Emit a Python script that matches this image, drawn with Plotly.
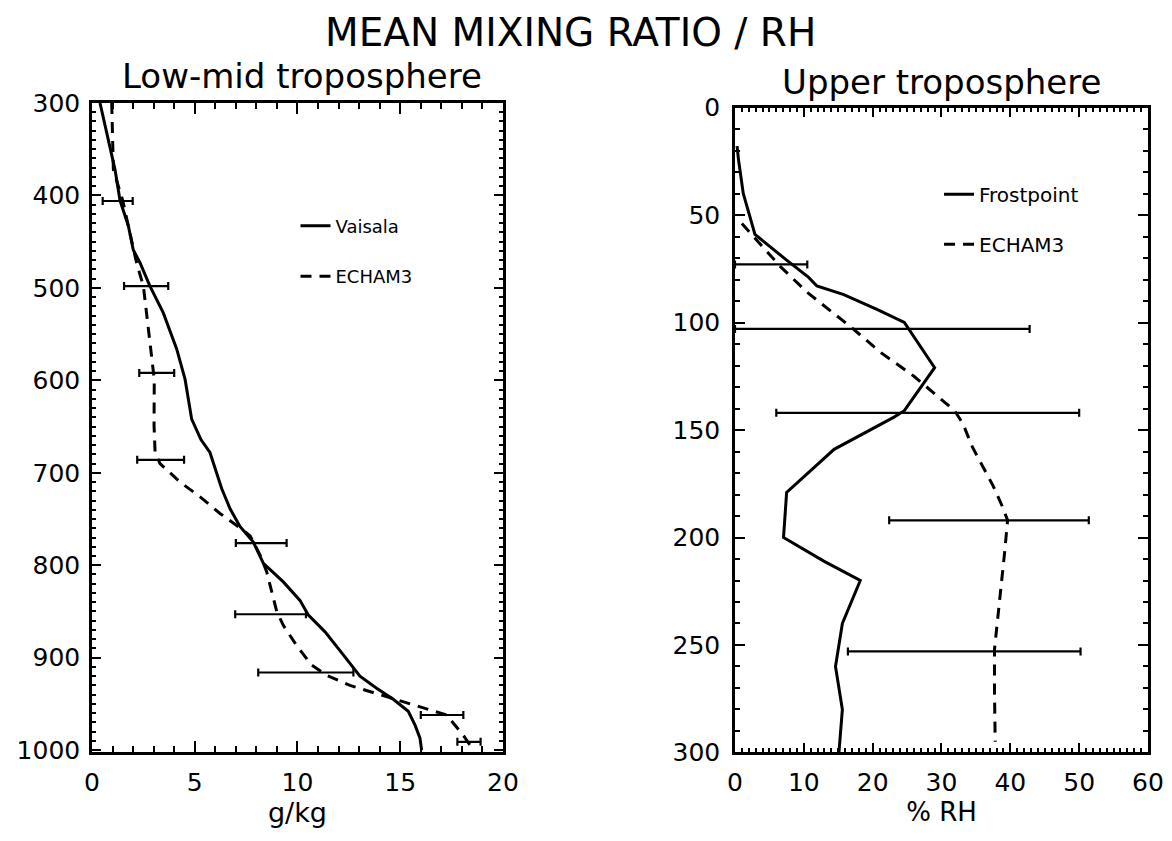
import plotly.graph_objects as go

# ---------------- data: left panel (mixing ratio, g/kg vs pressure hPa) ----------------
vais_p = [300, 333, 372, 405, 433, 459, 473, 498, 527, 566, 599, 642, 664, 678, 717, 739,
          758, 775, 798, 818, 838, 854, 872, 897, 920, 933, 945, 958, 973, 987, 1000]
vais_q = [0.39, 0.71, 1.12, 1.36, 1.77, 2.01, 2.34, 2.82, 3.47, 4.12, 4.53, 4.85, 5.3, 5.74,
          6.31, 6.72, 7.2, 7.85, 8.34, 9.31, 10.12, 10.53, 11.34, 12.23, 13.04, 13.85, 14.66,
          15.39, 15.72, 15.96, 16.04]

echl_p = [300, 372, 406, 473, 498, 541, 570, 599, 649, 678, 690, 710, 726, 744, 757, 768,
          789, 807, 850, 865, 887, 908, 919, 930, 941, 953, 962, 984, 1000]
echl_q = [0.96, 1.04, 1.5, 2.17, 2.5, 2.74, 2.9, 3.03, 3.02, 3.07, 3.31, 4.28, 5.26, 6.23,
          7.04, 7.69, 8.18, 8.5, 8.99, 9.31, 9.96, 10.69, 11.42, 12.55, 14.17, 15.96, 17.26,
          18.07, 18.56]

errl_p = [406, 498, 592, 686, 776, 853, 916, 962, 991]
errl_lo = [0.52, 1.56, 2.3, 2.2, 7.0, 6.97, 8.09, 16.0, 17.78]
errl_hi = [1.98, 3.71, 4.0, 4.48, 9.47, 10.41, 12.72, 18.07, 18.91]

# ---------------- data: right panel (% RH vs pressure hPa) ----------------
frost_p = [18, 24, 40, 59, 71, 79, 83, 87, 94, 100, 121, 141, 144, 159, 179, 200, 211,
           220, 240, 260, 280, 300]
frost_rh = [0.3, 0.5, 1.2, 2.9, 7.5, 10.7, 11.9, 15.8, 20.7, 24.6, 29.0, 24.6, 23.1, 14.4,
            7.5, 7.05, 12.9, 18.2, 15.6, 14.6, 15.6, 15.1]

echr_p = [54, 62, 74, 86, 102, 114, 125, 141, 147, 158, 176, 186, 192, 206, 229, 252, 272, 295]
echr_rh = [1.0, 3.2, 6.6, 10.5, 16.8, 21.2, 26.0, 31.9, 33.1, 34.5, 37.5, 38.9, 39.6, 39.2,
           38.4, 37.7, 37.7, 37.8]

errr_p = [73, 103, 142, 192, 253]
errr_lo = [0.0, 0.0, 6.0, 22.4, 16.4]
errr_hi = [10.5, 42.8, 50.0, 51.4, 50.2]

# tick settings
left_xticks = [0, 5, 10, 15, 20]
left_yticks = [300, 400, 500, 600, 700, 800, 900, 1000]
right_xticks = [0, 10, 20, 30, 40, 50, 60]
right_yticks = [0, 50, 100, 150, 200, 250, 300]

FONT = "DejaVu Sans, Liberation Sans, sans-serif"
DASH = "11px,8px"
LW = 3

fig = go.Figure()

fig.add_trace(go.Scatter(x=vais_q, y=vais_p, mode="lines", name="Vaisala",
                         line=dict(color="black", width=LW), xaxis="x", yaxis="y",
                         legend="legend", legendgroup="a"))
fig.add_trace(go.Scatter(x=echl_q, y=echl_p, mode="lines", name="ECHAM3",
                         line=dict(color="black", width=LW, dash=DASH), xaxis="x", yaxis="y",
                         legend="legend", legendgroup="b"))
cl = [(a + b) / 2 for a, b in zip(errl_lo, errl_hi)]
fig.add_trace(go.Scatter(x=cl, y=errl_p, mode="markers", showlegend=False,
                         marker=dict(size=1, color="rgba(0,0,0,0)"), xaxis="x", yaxis="y",
                         error_x=dict(type="data", symmetric=False,
                                      array=[h - c for h, c in zip(errl_hi, cl)],
                                      arrayminus=[c - l for c, l in zip(cl, errl_lo)],
                                      color="black", thickness=2.2, width=4)))

fig.add_trace(go.Scatter(x=frost_rh, y=frost_p, mode="lines", name="Frostpoint",
                         line=dict(color="black", width=LW), xaxis="x2", yaxis="y2",
                         legend="legend2", legendgroup="c"))
fig.add_trace(go.Scatter(x=echr_rh, y=echr_p, mode="lines", name="ECHAM3",
                         line=dict(color="black", width=LW, dash=DASH), xaxis="x2", yaxis="y2",
                         legend="legend2", legendgroup="d"))
cr = [(a + b) / 2 for a, b in zip(errr_lo, errr_hi)]
fig.add_trace(go.Scatter(x=cr, y=errr_p, mode="markers", showlegend=False,
                         marker=dict(size=1, color="rgba(0,0,0,0)"), xaxis="x2", yaxis="y2",
                         error_x=dict(type="data", symmetric=False,
                                      array=[h - c for h, c in zip(errr_hi, cr)],
                                      arrayminus=[c - l for c, l in zip(cr, errr_lo)],
                                      color="black", thickness=2.2, width=4)))

axis_common = dict(showline=True, linecolor="black", linewidth=2.5, mirror="ticks",
                   ticks="inside", tickcolor="black", tickwidth=2, showgrid=False,
                   zeroline=False, automargin=False,
                   tickfont=dict(family=FONT, size=25, color="black"))

# The page body has an 8px margin; the figure is sized to fit inside the window.
W, H = 1156, 825

fig.update_layout(
    width=W, height=H, margin=dict(l=0, r=0, t=0, b=0, autoexpand=False),
    paper_bgcolor="white", plot_bgcolor="white",
    xaxis=dict(domain=[0.07266, 0.42820], range=[0, 20], tickvals=left_xticks, ticklen=11,
               minor=dict(dtick=1, ticklen=6, ticks="inside", tickcolor="black", tickwidth=2),
               anchor="y", ticklabelstandoff=6,
               title=dict(text="g/kg", font=dict(family=FONT, size=27, color="black"), standoff=3),
               **axis_common),
    yaxis=dict(domain=[0.09818, 0.88485], range=[1002, 300], tickvals=left_yticks, ticklen=9,
               minor=dict(dtick=10, tick0=300, ticklen=4, ticks="inside", tickcolor="black", tickwidth=2),
               anchor="x", ticklabelstandoff=4, **axis_common),
    xaxis2=dict(domain=[0.62889, 0.98616], range=[0, 60], tickvals=right_xticks, ticklen=10,
                minor=dict(dtick=1, ticklen=5, ticks="inside", tickcolor="black", tickwidth=1.5),
                anchor="y2", ticklabelstandoff=6,
                title=dict(text="% RH", font=dict(family=FONT, size=26, color="black"), standoff=3),
                **axis_common),
    yaxis2=dict(domain=[0.09758, 0.87939], range=[300, 0], tickvals=right_yticks, ticklen=10,
                minor=dict(dtick=10, ticklen=5, ticks="inside", tickcolor="black", tickwidth=2),
                anchor="x2", ticklabelstandoff=7, **axis_common),
    legend=dict(x=0.2487, y=0.7581, xanchor="left", yanchor="top", bgcolor="rgba(0,0,0,0)",
                font=dict(family=FONT, size=18, color="black"), tracegroupgap=24,
                traceorder="grouped"),
    legend2=dict(x=0.8054, y=0.7978, xanchor="left", yanchor="top", bgcolor="rgba(0,0,0,0)",
                 font=dict(family=FONT, size=20, color="black"), tracegroupgap=21,
                 traceorder="grouped"),
    annotations=[
        dict(text="MEAN MIXING RATIO / RH", x=0.487, y=1.0, xref="paper", yref="paper",
             xanchor="center", yanchor="top", showarrow=False,
             font=dict(family=FONT, size=39, color="black")),
        dict(text="Low-mid troposphere", x=0.2545, y=0.9176, xref="paper", yref="paper",
             xanchor="center", yanchor="middle", showarrow=False,
             font=dict(family=FONT, size=34, color="black")),
        dict(text="Upper troposphere", x=0.8075, y=0.9103, xref="paper", yref="paper",
             xanchor="center", yanchor="middle", showarrow=False,
             font=dict(family=FONT, size=34, color="black")),
    ],
)

fig.write_html("out.html")
